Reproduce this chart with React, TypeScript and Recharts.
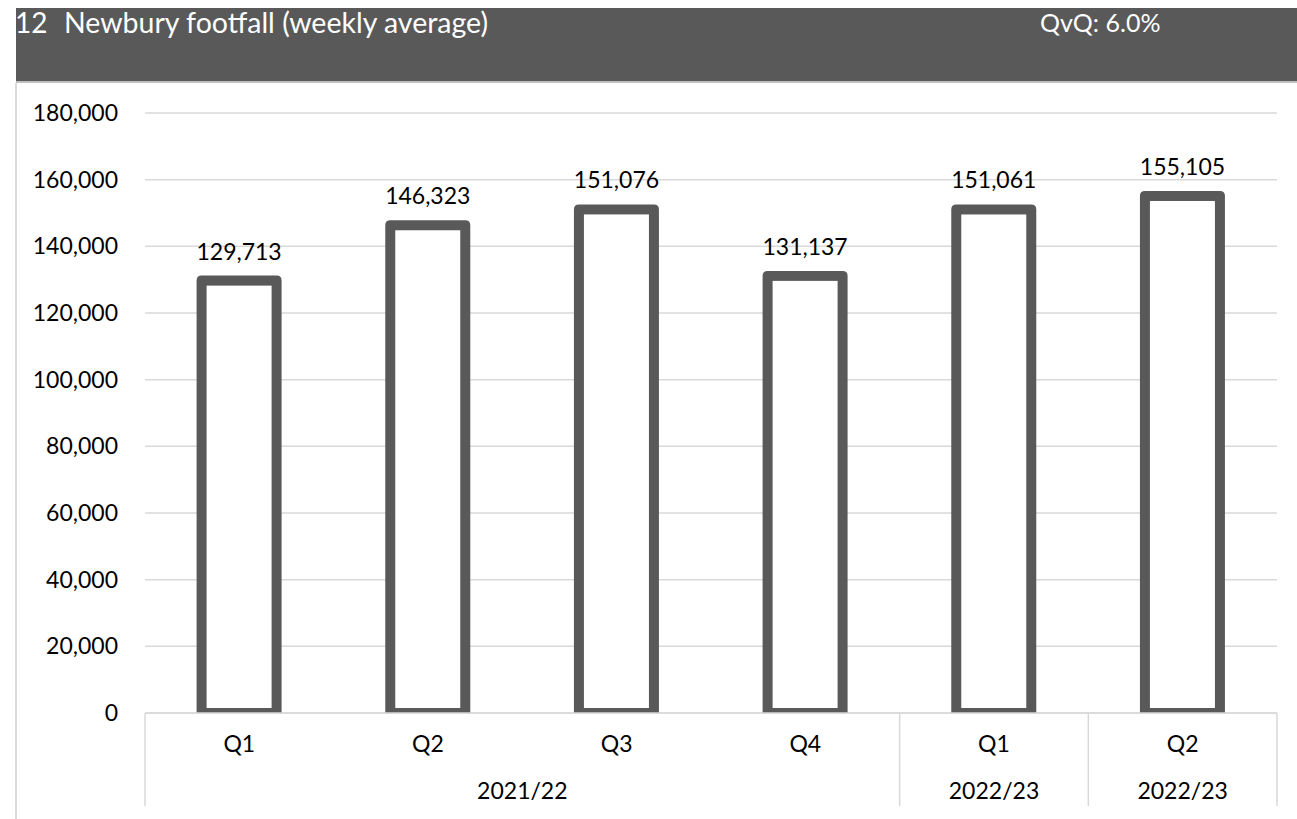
import React from 'react';
import { BarChart, Bar, XAxis, YAxis, CartesianGrid, LabelList } from 'recharts';

const quarters = ['Q1', 'Q2', 'Q3', 'Q4', 'Q1', 'Q2'];
const footfall = [129713, 146323, 151076, 131137, 151061, 155105];
// second row of the category axis: label and how many quarters it spans
const groupLabels = ['2021/22', '2022/23', '2022/23'];
const groupSpans = [4, 1, 1];
const yTicks = [0, 20000, 40000, 60000, 80000, 100000, 120000, 140000, 160000, 180000];

const data = quarters.map((q, i) => ({ idx: i, quarter: q, footfall: footfall[i] }));

const groupStarts = groupSpans.map((_, g) => groupSpans.slice(0, g).reduce((a, b) => a + b, 0));

const W = 1297;
const H = 819;
const FONT = 'Lato, "Open Sans", sans-serif';
const DARK = '#595959';
const GRID = '#d9d9d9';

const fmt = (v: number) => v.toLocaleString('en-US');

// outlined bar: thick dark border, white inside, bottom edge half hidden by the axis
const OutlineBar = (props: any) => {
  const { x, y, width, height } = props;
  if (width == null || height == null) return null;
  const s = 10;
  const h = s / 2;
  const r = 5;
  const x0 = x - h;
  const x1 = x + width + h;
  const y0 = y - h;
  const yb = y + height;
  const d = `M${x0},${yb} L${x0},${y0 + r} Q${x0},${y0} ${x0 + r},${y0} L${x1 - r},${y0} Q${x1},${y0} ${x1},${y0 + r} L${x1},${yb} Z`;
  return (
    <g>
      <path d={d} fill={DARK} />
      <rect x={x + h} y={y + h} width={Math.max(0, width - s)} height={Math.max(0, height - s)} fill="#fff" />
    </g>
  );
};

const GroupTick = (props: any) => {
  const { x, y, payload } = props;
  const i = payload.index;
  const off = payload.offset ?? (W - 20 - 145) / quarters.length / 2;
  const items: React.ReactNode[] = [];
  const g = groupStarts.indexOf(i);
  if (g >= 0) {
    const n = groupSpans[g];
    items.push(<line key="l" x1={x - off} x2={x - off} y1={y - 50} y2={y + 43} stroke={GRID} strokeWidth={1.5} />);
    items.push(
      <text key="t" x={x - off + n * off} y={y + 36} textAnchor="middle" fontSize={23} fontFamily={FONT} fill="#000">
        {groupLabels[g]}
      </text>
    );
  }
  if (i === quarters.length - 1) {
    items.push(<line key="r" x1={x + off} x2={x + off} y1={y - 50} y2={y + 43} stroke={GRID} strokeWidth={1.5} />);
  }
  return <g>{items}</g>;
};

const headText: React.CSSProperties = { position: 'absolute', top: 7, color: '#fff', lineHeight: '30px', whiteSpace: 'nowrap' };

export default function App() {
  return (
    <div style={{ position: 'relative', width: W, height: H, background: '#fff', fontFamily: FONT, overflow: 'hidden' }}>
      <style>{'body{margin:0}'}</style>
      <div style={{ position: 'absolute', left: 16, top: 8, width: W - 16, height: 73, background: DARK }} />
      <div style={{ position: 'absolute', left: 16, top: 81, width: W - 16, height: 2, background: '#bfbfbf' }} />
      <div style={{ position: 'absolute', left: 15, top: 83, width: 1.5, height: H - 83, background: GRID }} />
      <div style={{ ...headText, left: 15, fontSize: 28 }}>12</div>
      <div style={{ ...headText, left: 64, fontSize: 28.5 }}>Newbury footfall (weekly average)</div>
      <div style={{ ...headText, left: 1040, fontSize: 25 }}>QvQ: 6.0%</div>
      <div style={{ position: 'absolute', left: 0, top: 0 }}>
        <BarChart width={W} height={H} data={data} margin={{ top: 113, right: 20, bottom: 0, left: 0 }} barCategoryGap="30%">
          <CartesianGrid vertical={false} stroke={GRID} strokeWidth={1.5} />
          <XAxis
            dataKey="idx"
            height={50}
            interval={0}
            tickLine={false}
            tickSize={0}
            tickMargin={23}
            axisLine={{ stroke: GRID, strokeWidth: 1.5 }}
            tick={{ fill: '#000', fontSize: 23, fontFamily: FONT }}
            tickFormatter={(v: number) => quarters[v]}
          />
          <XAxis
            xAxisId="yr"
            dataKey="idx"
            height={56}
            interval={0}
            tickLine={false}
            tickSize={0}
            tickMargin={0}
            axisLine={false}
            tick={<GroupTick />}
          />
          <YAxis
            width={145}
            domain={[0, 180000]}
            ticks={yTicks}
            interval={0}
            axisLine={false}
            tickLine={false}
            tickSize={0}
            tickMargin={27}
            tick={{ fill: '#000', fontSize: 23, fontFamily: FONT }}
            tickFormatter={fmt}
          />
          <Bar dataKey="footfall" shape={<OutlineBar />} isAnimationActive={false}>
            <LabelList
              dataKey="footfall"
              position="top"
              offset={21}
              formatter={(v: any) => fmt(Number(v))}
              style={{ fill: '#000', fontSize: 23, fontFamily: FONT }}
            />
          </Bar>
        </BarChart>
      </div>
    </div>
  );
}
